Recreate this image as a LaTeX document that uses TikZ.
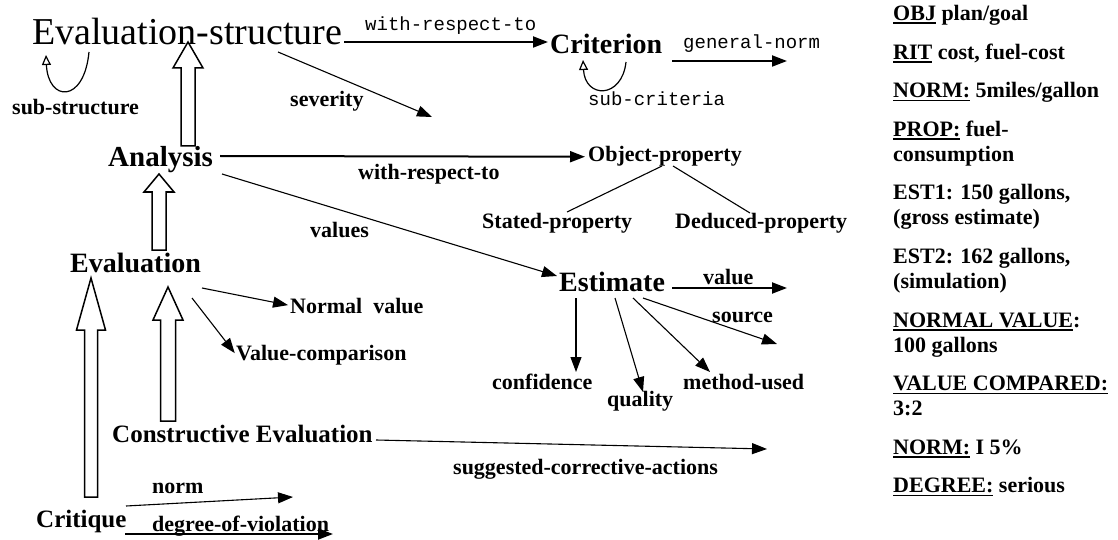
\documentclass[tikz,border=0pt]{standalone}
\usepackage{fontspec}
\setmainfont{Liberation Serif}
\newfontfamily\monofont{Liberation Mono}
\usetikzlibrary{arrows.meta,calc}
\newcommand\udl[1]{\leavevmode\setbox0=\hbox{#1}\rlap{\rule[-3.5pt]{\wd0}{1.6pt}}\box0\relax}
\begin{document}
\begin{tikzpicture}[x=1pt,y=-1pt,>={Triangle[length=15pt,width=11pt]},line join=miter,font=\bfseries\fontsize{22}{25}\selectfont]
	\tikzset{
		lab/.style={inner sep=0pt,anchor=base west},
		mono/.style={lab,font=\monofont\fontsize{19}{22}\selectfont},
		thinarr/.style={->,line width=1.1pt},
		thickarr/.style={->,line width=2pt},
		hollow/.style={line width=1.5pt,fill=white},
		selfloop/.style={line width=1.2pt,-{Triangle[open,length=10pt,width=9pt]}}
	}
	\useasboundingbox (0,0) rectangle (1118,540);
	\node[lab,font=\mdseries\fontsize{38}{42}\selectfont] (evstruct) at (32,45) {Evaluation-structure};
	\node[lab,font=\bfseries\fontsize{28}{32}\selectfont] (criterion) at (550,54) {Criterion};
	\node[lab,font=\bfseries\fontsize{29}{33}\selectfont] (analysis) at (108,167) {Analysis};
	\node[lab] (objprop) at (588,162) {Object-property};
	\node[lab] (stated) at (482,228) {Stated-property};
	\node[lab] (deduced) at (675,228) {Deduced-property};
	\node[lab,font=\bfseries\fontsize{28}{32}\selectfont] (estimate) at (559,291) {Estimate};
	\node[lab,font=\bfseries\fontsize{28}{32}\selectfont] (evaluation) at (70,272) {Evaluation};
	\node[lab] (normval) at (290,313) {Normal\ \ value};
	\node[lab] (valcomp) at (236,360) {Value-comparison};
	\node[lab] (confidence) at (492,389) {confidence};
	\node[lab] (quality) at (607,406) {quality};
	\node[lab] (method) at (683,389) {method-used};
	\node[lab,font=\bfseries\fontsize{25}{29}\selectfont] (construct) at (112,442) {Constructive Evaluation};
	\node[lab,font=\bfseries\fontsize{25}{29}\selectfont] (critique) at (36,527) {Critique};
	\node[lab] (substruct) at (12,115) {sub-structure};
	\node[lab] (severity) at (290,107) {severity};
	\node[lab] (wrtb) at (358,180) {with-respect-to};
	\node[lab] (values) at (310,237) {values};
	\node[lab] (value) at (703,284) {value};
	\node[lab] (source) at (712,322) {source};
	\node[lab] (suggested) at (453,474) {suggested-corrective-actions};
	\node[lab] (norm) at (152,493) {norm};
	\node[lab] (degree) at (152,531) {degree-of-violation};
	\node[mono] (wrtm) at (365,31) {with-respect-to};
	\node[mono] (gennorm) at (683,49) {general-norm};
	\node[mono] (subcrit) at (588,106) {sub-criteria};
	\node[lab,anchor=north west,align=left] (legend) at (893,5) {\udl{OBJ} plan/goal\\[13.6pt]
		\udl{RIT} cost, fuel-cost\\[13.6pt]
		\udl{NORM:} 5miles/gallon\\[13.6pt]
		\udl{PROP:} fuel-\\consumption\\[13.6pt]
		EST1: 150 gallons,\\(gross estimate)\\[13.6pt]
		EST2: 162 gallons,\\(simulation)\\[13.6pt]
		\udl{NORMAL VALUE}:\\100 gallons\\[13.6pt]
		\udl{VALUE COMPARED:}\\3:2\\[13.6pt]
		\udl{NORM:} I 5\%\\[13.6pt]
		\udl{DEGREE:} serious};
	\path (188,146) coordinate (h1b) (188,42) coordinate (h1t)
		(159,250) coordinate (h2b) (159,174) coordinate (h2t)
		(91,497) coordinate (h3b) (91,278) coordinate (h3t)
		(168,421) coordinate (h4b) (168,287) coordinate (h4t);
	\foreach \b/\t/\h/\s/\w in {h1b/h1t/26/7/15,h2b/h2t/18/7/15,h3b/h3t/52/6.5/14.5,h4b/h4t/33/7.5/15}{
		\draw[hollow] ($(\b)+(-\s,0)$) -- ($(\t)+(-\s,\h)$) -- ($(\t)+(-\w,\h)$) -- (\t) -- ($(\t)+(\w,\h)$) -- ($(\t)+(\s,\h)$) -- ($(\b)+(\s,0)$) -- cycle;
	}
	\path (89,52) coordinate (ssR) (46,55) coordinate (ssL)
		(626,62) coordinate (scR) (583,60) coordinate (scL);
	\draw[selfloop] (ssR) .. controls (84,104) and (48,102) .. (ssL);
	\draw[selfloop] (scR) .. controls (622,99) and (585,99) .. (scL);
	\path (344,42) coordinate (wrtA) (548,42) coordinate (wrtB)
		(672,61) coordinate (genA) (787,61) coordinate (genB)
		(220,156) coordinate (anA)
		(672,288) coordinate (valA) (787,288) coordinate (valB)
		(125,534) coordinate (degA) (333,534) coordinate (degB)
		(278,52) coordinate (sevA) (432,117) coordinate (sevB)
		(222,174) coordinate (vlsA) (557,276) coordinate (vlsB)
		(202,288) coordinate (nvA) (192,298) coordinate (vcA)
		(643,298) coordinate (srcA) (777,344) coordinate (srcB)
		(633,298) coordinate (mtdA) (710,372) coordinate (mtdB)
		(615,298) coordinate (qlA) (643,392) coordinate (qlB)
		(576,298) coordinate (cfA) (576,372) coordinate (cfB)
		(376,440) coordinate (sugA) (767,449) coordinate (sugB)
		(126,506) coordinate (nrmA) (293,497) coordinate (nrmB)
		(662,166) coordinate (opL) (673,166) coordinate (opR)
		(567,212) coordinate (stT) (750,213) coordinate (ddT);
	\foreach \a/\b in {wrtA/wrtB,genA/genB,valA/valB,degA/degB}{
		\draw[thickarr] (\a) -- (\b);
	}
	\draw[thickarr,shorten >=3pt] (anA) -- (objprop.west);
	\foreach \a/\b in {sevA/sevB,vlsA/vlsB,srcA/srcB,mtdA/mtdB,qlA/qlB,cfA/cfB,sugA/sugB,nrmA/nrmB}{
		\draw[thinarr] (\a) -- (\b);
	}
	\draw[thinarr,shorten >=2pt] (nvA) -- (normval.west);
	\draw[thinarr,shorten >=2pt] (vcA) -- (valcomp.west);
	\draw[line width=1.1pt] (opL) -- (stT) (opR) -- (ddT);
\end{tikzpicture}
\end{document}
